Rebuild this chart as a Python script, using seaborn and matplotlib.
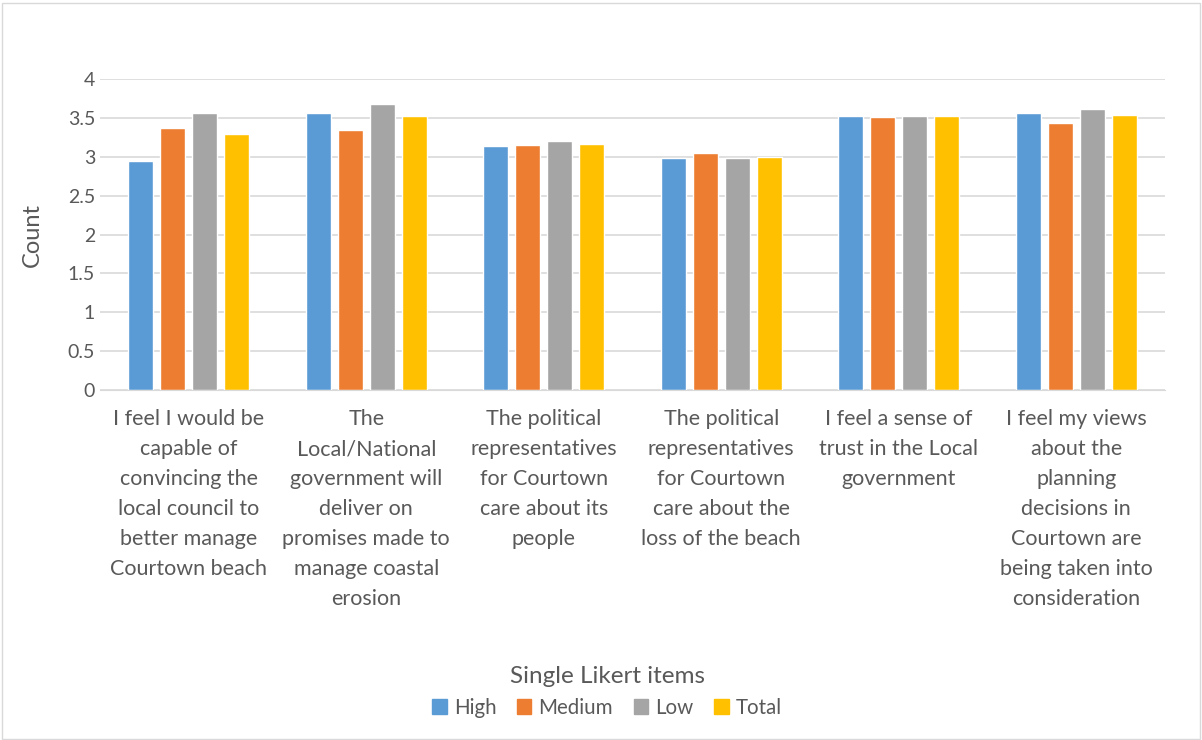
import pandas as pd
import seaborn as sns
import matplotlib.pyplot as plt
from matplotlib.patches import Rectangle

# 데이터
items = [
    "I feel I would be\ncapable of\nconvincing the\nlocal council to\nbetter manage\nCourtown beach",
    "The\nLocal/National\ngovernment will\ndeliver on\npromises made to\nmanage coastal\nerosion",
    "The political\nrepresentatives\nfor Courtown\ncare about its\npeople",
    "The political\nrepresentatives\nfor Courtown\ncare about the\nloss of the beach",
    "I feel a sense of\ntrust in the Local\ngovernment",
    "I feel my views\nabout the\nplanning\ndecisions in\nCourtown are\nbeing taken into\nconsideration",
]
groups = ["High", "Medium", "Low", "Total"]
high = [2.95, 3.57, 3.14, 2.98, 3.52, 3.56]
medium = [3.37, 3.35, 3.15, 3.05, 3.51, 3.44]
low = [3.57, 3.68, 3.20, 2.99, 3.53, 3.61]
total = [3.30, 3.53, 3.17, 3.00, 3.52, 3.54]
colors = ["#5B9BD5", "#ED7D31", "#A5A5A5", "#FFC000"]

rows = []
for g, vals in zip(groups, [high, medium, low, total]):
    for it, v in zip(items, vals):
        rows.append({"item": it, "group": g, "value": v})
df = pd.DataFrame(rows)

sns.set_style("white")
plt.rcParams['font.family'] = ['Lato', 'DejaVu Sans']

fig = plt.figure(figsize=(12.02, 7.40), dpi=100)
ax = fig.add_axes([0.0832, 0.473, 0.886, 0.420])

sns.barplot(data=df, x="item", y="value", hue="group", hue_order=groups,
            order=items, palette=colors, width=0.72, gap=0.22,
            saturation=1, ax=ax, legend=True)

ax.set_ylim(0, 4)
ax.set_yticks([0, 0.5, 1, 1.5, 2, 2.5, 3, 3.5, 4])
ax.set_yticklabels(["0", "0.5", "1", "1.5", "2", "2.5", "3", "3.5", "4"])
ax.yaxis.grid(True, color="#D9D9D9", linewidth=1.2)
ax.set_axisbelow(True)
for s in ["top", "right", "left"]:
    ax.spines[s].set_visible(False)
ax.spines["bottom"].set_color("#D9D9D9")
ax.tick_params(axis="y", length=0, labelsize=14, colors="#595959")
ax.tick_params(axis="x", length=0, labelsize=15.5, colors="#595959", pad=14)
ax.set_xlabel("")
ax.set_ylabel("Count", fontsize=17, color="#595959", labelpad=18)
for lbl in ax.get_xticklabels():
    lbl.set_linespacing(1.62)

ax.get_legend().remove()
handles = [Rectangle((0, 0), 1, 1, color=c) for c in colors]
leg = fig.legend(handles, groups, loc="center", bbox_to_anchor=(0.505, 0.065),
                 ncol=4, frameon=False, fontsize=14.8, handlelength=0.7,
                 handleheight=0.7, handletextpad=0.35, columnspacing=1.0,
                 title="Single Likert items", title_fontsize=17.5)
for t in leg.get_texts():
    t.set_color("#595959")
leg.get_title().set_color("#595959")

fig.patches.append(Rectangle((0.002, 0.002), 0.996, 0.994, transform=fig.transFigure,
                             fill=False, edgecolor="#D9D9D9", linewidth=1))

fig.savefig("out.png", dpi=100)
